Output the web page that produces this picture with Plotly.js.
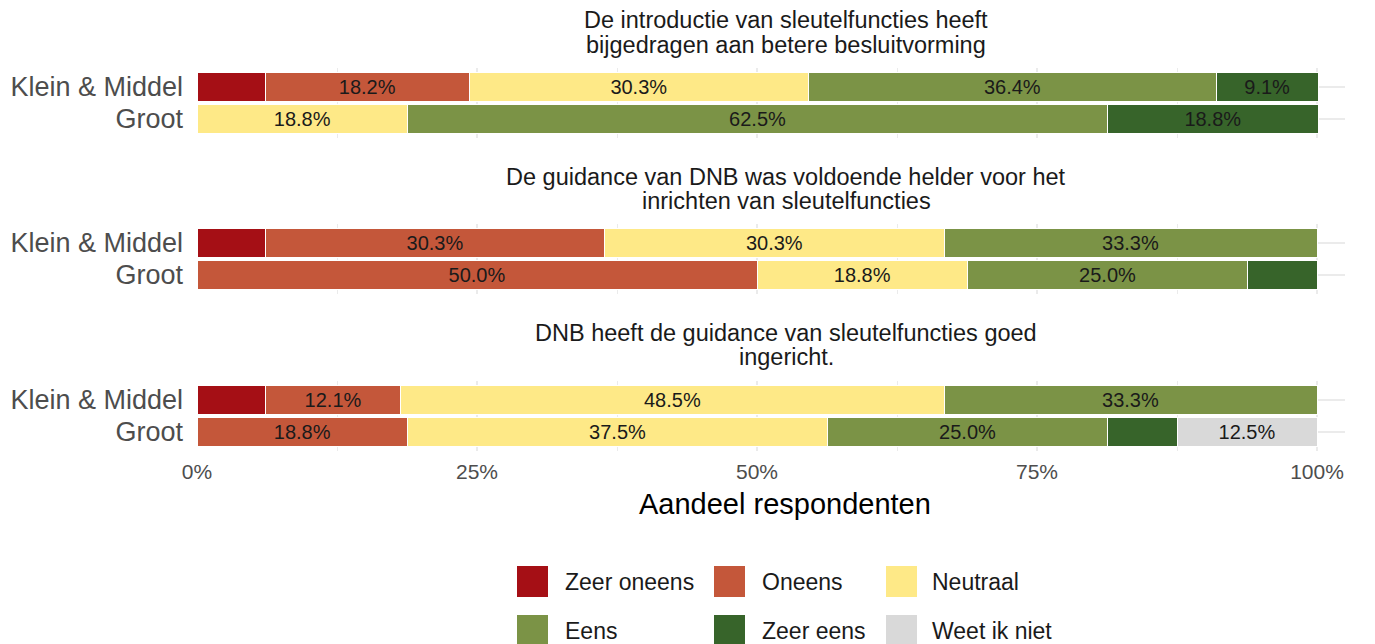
<!DOCTYPE html>
<html><head><meta charset="utf-8">
<script src="https://cdn.plot.ly/plotly-3.0.1.min.js"></script>
<style>html,body{margin:0;padding:0;background:#fff}</style>
</head><body><div id="chart" style="width:1375px;height:644px"></div>
<script>
// ---- data ----
const groups = ['Klein & Middel', 'Groot'];
const responses = ['Zeer oneens', 'Oneens', 'Neutraal', 'Eens', 'Zeer eens', 'Weet ik niet'];
const colors = ['#a50f15', '#c4573a', '#fee987', '#7b9346', '#37642a', '#d9d9d9'];
const questionTitles = [
  ['De introductie van sleutelfuncties heeft', 'bijgedragen aan betere besluitvorming'],
  ['De guidance van DNB was voldoende helder voor het', 'inrichten van sleutelfuncties'],
  ['DNB heeft de guidance van sleutelfuncties goed', 'ingericht.']
];
// values per response: [Klein & Middel, Groot]
const q1Values = [[6.1, null], [18.2, null], [30.3, 18.8], [36.4, 62.5], [9.1, 18.8], [null, null]];
const q2Values = [[6.1, null], [30.3, 50.0], [30.3, 18.8], [33.3, 25.0], [null, 6.2], [null, null]];
const q3Values = [[6.1, null], [12.1, 18.8], [48.5, 37.5], [33.3, 25.0], [null, 6.2], [null, 12.5]];
const questionValues = [q1Values, q2Values, q3Values];
const xTickVals = [0, 25, 50, 75, 100];
const xTickText = ['0%', '25%', '50%', '75%', '100%'];
const xTitle = 'Aandeel respondenten';
const labelMin = 9;

// ---- layout helpers ----
const W = 1375, H = 644;
const FONT = 'Liberation Sans, Arial, sans-serif';
const py = p => 1 - p / H;
const px = p => p / W;
const panelTops = [67.8, 223.8, 380.8];
const panelH = 70.4;
const titleLines = [[20, 45], [177, 201], [333, 357]];
const xDomain = [px(197), px(1345)];

const traces = [];
questionValues.forEach((qv, qi) => {
  const sfx = qi === 0 ? '' : String(qi + 1);
  qv.forEach((vals, ri) => {
    traces.push({
      type: 'bar', orientation: 'h',
      x: vals, y: groups,
      xaxis: 'x' + sfx, yaxis: 'y' + sfx,
      width: 0.9,
      marker: {color: colors[ri], line: {color: '#ffffff', width: 1}},
      text: vals.map(v => (v != null && v >= labelMin) ? v.toFixed(1) + '%' : ''),
      textposition: 'inside', insidetextanchor: 'middle', textangle: 0,
      constraintext: 'none',
      insidetextfont: {family: FONT, size: 20, color: '#1a1a1a'},
      hoverinfo: 'skip', showlegend: false, name: responses[ri]
    });
  });
});

const layout = {
  width: W, height: H,
  margin: {l: 0, r: 0, t: 0, b: 0},
  paper_bgcolor: '#ffffff', plot_bgcolor: '#ffffff',
  barmode: 'stack', showlegend: false,
  font: {family: FONT, color: '#1a1a1a'},
  annotations: [], shapes: []
};

questionValues.forEach((qv, qi) => {
  const sfx = qi === 0 ? '' : String(qi + 1);
  const last = qi === questionValues.length - 1;
  layout['xaxis' + sfx] = {
    domain: xDomain, range: [0, 102.5], anchor: 'y' + sfx,
    tickvals: xTickVals, ticktext: xTickText,
    showticklabels: last, ticks: '', ticklabelstandoff: 6,
    tickfont: {family: FONT, size: 21, color: '#4d4d4d'},
    showgrid: true, gridcolor: '#ebebeb', gridwidth: 1.6,
    minor: {tickvals: [12.5, 37.5, 62.5, 87.5], showgrid: true, gridcolor: '#ebebeb', gridwidth: 1},
    zeroline: false, showline: false, fixedrange: true
  };
  layout['yaxis' + sfx] = {
    domain: [py(panelTops[qi] + panelH), py(panelTops[qi])], anchor: 'x' + sfx,
    type: 'category', categoryorder: 'array', categoryarray: groups.slice().reverse(),
    tickvals: groups, ticktext: groups,
    range: [-0.6, 1.6],
    showgrid: true, gridcolor: '#ebebeb', gridwidth: 1.6,
    ticks: '', ticklabelstandoff: 13, ticklabeloverflow: 'allow',
    tickfont: {family: FONT, size: 27, color: '#4d4d4d'},
    zeroline: false, showline: false, fixedrange: true
  };
  questionTitles[qi].forEach((line, li) => {
    layout.annotations.push({
      xref: 'paper', yref: 'paper', x: px(786), y: py(titleLines[qi][li]),
      xanchor: 'center', yanchor: 'middle', showarrow: false, text: line,
      font: {family: FONT, size: 23.5, color: '#1a1a1a'}
    });
  });
});

// x-axis title (centred like the strip titles)
layout.annotations.push({
  xref: 'paper', yref: 'paper', x: px(785), y: py(504),
  xanchor: 'center', yanchor: 'middle', showarrow: false, text: xTitle,
  font: {family: FONT, size: 29, color: '#000000'}
});

// legend (2 rows x 3 columns)
const legSwatchX = [517, 714, 886];
const legTextX = [565, 762, 932];
const legRowY = [581.5, 630.5];
const sw = 31;
responses.forEach((r, ri) => {
  const row = Math.floor(ri / 3), col = ri % 3;
  layout.shapes.push({
    type: 'rect', xref: 'paper', yref: 'paper',
    x0: px(legSwatchX[col]), x1: px(legSwatchX[col] + sw),
    y0: py(legRowY[row] + sw / 2), y1: py(legRowY[row] - sw / 2),
    fillcolor: colors[ri], line: {width: 0}
  });
  layout.annotations.push({
    xref: 'paper', yref: 'paper', x: px(legTextX[col] - 2), y: py(legRowY[row]),
    xanchor: 'left', yanchor: 'middle', showarrow: false, text: r,
    font: {family: FONT, size: 23, color: '#1a1a1a'}
  });
});

Plotly.newPlot('chart', traces, layout, {displayModeBar: false, staticPlot: true});
</script></body></html>
